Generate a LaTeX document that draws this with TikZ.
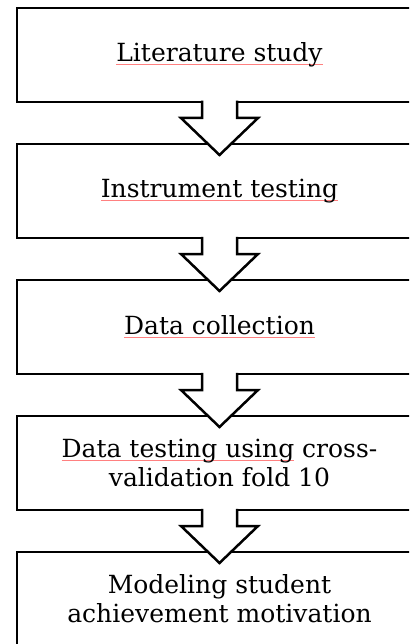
\documentclass[tikz,border=0pt]{standalone}
\usepackage{fontspec}
\setmainfont{DejaVu Serif}
\usetikzlibrary{positioning}

% red spell-check mark under a word
\newcommand\spellmark[1]{\setbox0\hbox{#1}\rlap{\color{red!50}\rule[-3pt]{\wd0}{0.8pt}}\box0{}}

\tikzset{
  stage/.style={draw, line width=2.5pt, outer sep=0pt, inner sep=0pt,
    minimum width=405pt, minimum height=94pt, align=center,
    font=\fontsize{25}{29}\selectfont},
  flow/.style={draw, fill=white, line width=2.5pt, line join=miter}
}

\begin{document}
\begin{tikzpicture}[x=1pt,y=-1pt]
\useasboundingbox (0,0) rectangle (409,644);
\clip (0,0) rectangle (409,644);

% stages
\node[stage] (lit) at (219.5,55) {\spellmark{Literature study}};
\node[stage, below=42pt of lit] (inst) {\spellmark{Instrument testing}};
\node[stage, below=42pt of inst] (coll) {\spellmark{Data collection}};
\node[stage, below=42pt of coll] (test) {\spellmark{Data testing using} cross-\\validation fold 10};
\node[stage, below=42pt of test] (model) {Modeling student\\achievement motivation};

% block arrows
\foreach \a in {lit, inst, coll, test}
  \filldraw[flow] ([xshift=-17.5pt,yshift=1.25pt]\a.south) -- ++(0,17.25) -- ++(-21,0)
    -- ++(38.5,37) -- ++(38.5,-37) -- ++(-21,0) -- ++(0,-17.25);
\end{tikzpicture}
\end{document}
